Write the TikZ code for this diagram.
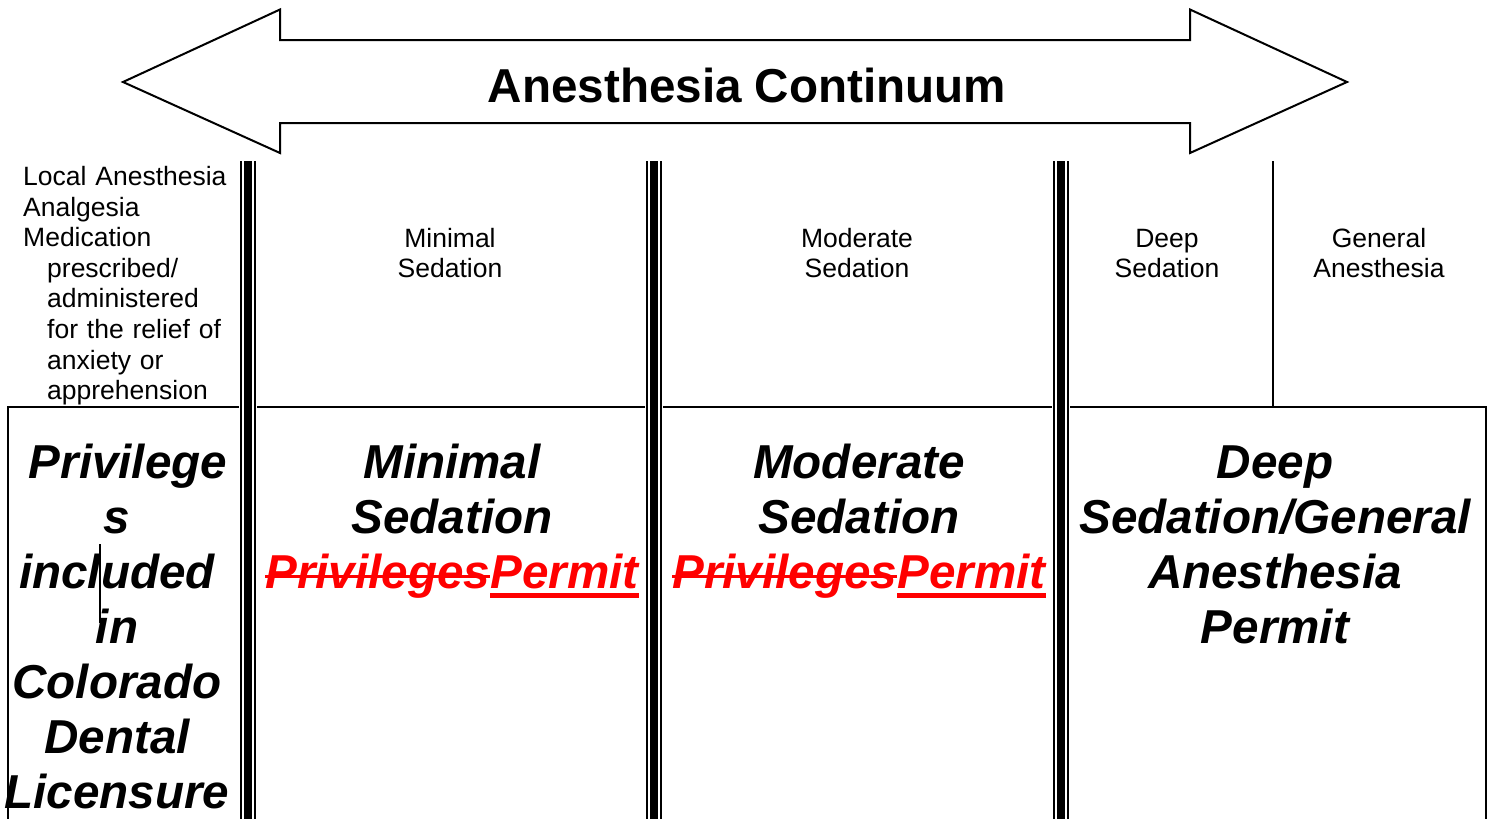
\documentclass[tikz,border=0pt]{standalone}
\usepackage{fontspec}
\setmainfont{Liberation Sans}
\newsavebox\wordbox
\newcommand\strikeword[1]{\leavevmode\sbox\wordbox{#1}\rlap{\usebox\wordbox}\rule[10pt]{\wd\wordbox}{3pt}}
\newcommand\underword[1]{\leavevmode\sbox\wordbox{#1}\rlap{\usebox\wordbox}\rule[-10.3pt]{\wd\wordbox}{5pt}}
\tikzset{
  smalltext/.style={font=\fontsize{26.5}{30.6}\selectfont, align=center, text width=300pt, inner sep=0pt, anchor=base},
  bigtext/.style={font=\fontsize{47.6}{55}\selectfont\bfseries\itshape, align=center, text width=440pt, inner sep=0pt, anchor=base},
  titletext/.style={font=\fontsize{47.6}{55}\selectfont\bfseries, inner sep=0pt, anchor=base},
  arrowline/.style={draw=black, line width=2pt, line join=miter, fill=white},
  gridline/.style={draw=black, line width=2pt},
}
\begin{document}
\begin{tikzpicture}[x=1pt,y=-1pt]
\useasboundingbox (0,0) rectangle (1493,819);
% double-headed block arrow
\draw[arrowline] (123,82) -- (280,9.5) -- (280,40) -- (1190,40) -- (1190,9.5) -- (1347,82)
  -- (1190,153) -- (1190,123) -- (280,123) -- (280,153) -- cycle;
\node[titletext] (title) at (747,102) {Anesthesia Continuum};
% table lines
\draw[gridline] (8,407) -- (1486,407);
\draw[gridline] (8,406) -- (8,819);
\draw[gridline] (1486,406) -- (1486,819);
\draw[gridline] (1273,161) -- (1273,407);
\foreach \x in {247.5,654,1061} {
  \fill[white] (\x-9,161) rectangle (\x+9,819);
  \fill[black] (\x-8,161) rectangle (\x-6,819);
  \fill[black] (\x-4,161) rectangle (\x+4,819);
  \fill[black] (\x+6,161) rectangle (\x+8,819);
}
% top labels
\node[smalltext, align=left, text width=230pt, anchor=base west] (local) at (23,185.5)
  {Local Anesthesia\\Analgesia\\Medication\\\hspace*{24pt}prescribed/\\\hspace*{24pt}administered\\\hspace*{24pt}for the relief of\\\hspace*{24pt}anxiety or\\\hspace*{24pt}apprehension};
\node[smalltext] (minS) at (450,247) {Minimal\\Sedation};
\node[smalltext] (modS) at (857,247) {Moderate\\Sedation};
\node[smalltext] (deepS) at (1167,247) {Deep\\Sedation};
\node[smalltext] (genA) at (1379,247) {General\\Anesthesia};
% permit rows
\node[bigtext] (privL) at (117,478) {\hspace*{22pt}Privilege\\s\\included\\in\\Colorado\\Dental\\Licensure};
\node[bigtext] (minP) at (452,478) {Minimal\\Sedation\\{\color{red}\strikeword{Privileges}\underword{Permit}}};
\node[bigtext] (modP) at (859,478) {Moderate\\Sedation\\{\color{red}\strikeword{Privileges}\underword{Permit}}};
\node[bigtext] (deepP) at (1275,478) {Deep\\Sedation/General\\Anesthesia\\Permit};
% stray caret mark
\draw[black, line width=1.5pt] (100,544) -- (100,623);
\end{tikzpicture}
\end{document}
